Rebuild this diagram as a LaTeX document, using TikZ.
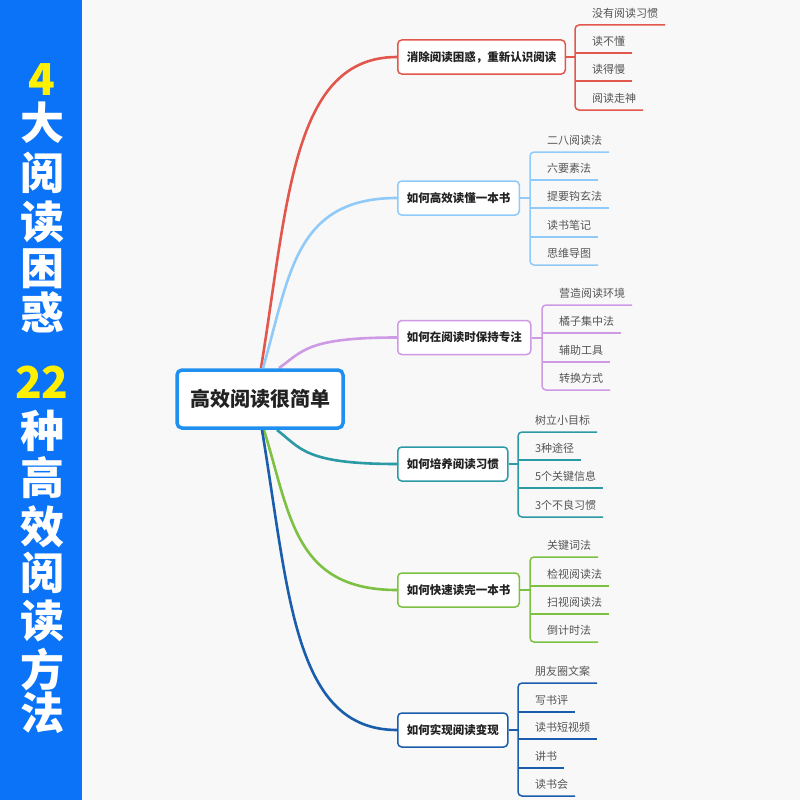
\documentclass[tikz,border=0pt]{standalone}
\usepackage{fontspec}
\setmainfont{Noto Sans CJK SC}
\usetikzlibrary{backgrounds}
\definecolor{bgc}{HTML}{F8F8F8}
\definecolor{bannerc}{HTML}{0A73F7}
\definecolor{yel}{HTML}{FFF000}
\definecolor{rootc}{HTML}{2090F0}
\definecolor{cred}{HTML}{E2574C}
\definecolor{clb}{HTML}{90CAF9}
\definecolor{cpu}{HTML}{CE9AE6}
\definecolor{ctl}{HTML}{2A9AA5}
\definecolor{cgr}{HTML}{7DC142}
\definecolor{cdb}{HTML}{1A5DAD}
\definecolor{txtdark}{HTML}{222222}
\definecolor{txtgray}{HTML}{555555}
\tikzset{
  bann/.style={anchor=base, inner sep=0pt, text=white, font=\bfseries\fontsize{44}{44}\selectfont},
  rootbox/.style={draw=rootc, fill=white, line width=3.5pt, rounded corners=5pt, minimum width=166pt, minimum height=58pt, font=\bfseries\fontsize{20}{22}\selectfont, text=txtdark},
  box/.style={draw=#1, fill=white, rounded corners=4pt, line width=1.5pt, minimum height=34pt, inner xsep=9pt, font=\bfseries\fontsize{11.5}{12}\selectfont, text=txtdark, anchor=west},
  leaf/.style={inner xsep=7pt, inner ysep=0pt, outer xsep=0pt, outer ysep=7.5pt, text depth=0pt, anchor=south west, font=\fontsize{11}{12}\selectfont, text=txtgray},
  stem/.style={draw=#1, line width=2.6pt},
  link/.style={draw=#1, line width=2pt},
  brk/.style={draw=#1, line width=1.5pt, rounded corners=4pt}
}
\begin{document}
\begin{tikzpicture}[x=1pt,y=-1pt]
\useasboundingbox (0,0) rectangle (800,800);
% banner
\fill[bannerc] (0,0) rectangle (82,800);
\node[bann, text=yel] (b1) at (42,95.5) {4};
\node[bann] (b2) at (42,139.5) {大};
\node[bann] (b3) at (42,189.5) {阅};
\node[bann] (b4) at (42,238.5) {读};
\node[bann] (b5) at (42,284.5) {困};
\node[bann] (b6) at (42,329.5) {惑};
\node[bann, text=yel] (b7) at (42,398.5) {22};
\node[bann] (b8) at (42,447.5) {种};
\node[bann] (b9) at (42,494.5) {高};
\node[bann] (b10) at (42,543.5) {效};
\node[bann] (b11) at (42,589.5) {阅};
\node[bann] (b12) at (42,637.5) {读};
\node[bann] (b13) at (42,686.5) {方};
\node[bann] (b14) at (42,729.5) {法};

% root
\node[rootbox] (c) at (260,399) {高效阅读很简单};

% branch 1
\node[box=cred] (m1) at (397,57) {消除阅读困惑，重新认识阅读};
\coordinate (j1) at (575,57);
\node[leaf] (m1a) at (585,25) {没有阅读习惯};
\node[leaf] (m1b) at (585,53) {读不懂};
\node[leaf] (m1c) at (585,81) {读得慢};
\node[leaf] (m1d) at (585,110) {阅读走神};
\draw[link=cred] (m1.east) -- (j1);
\draw[brk=cred] (m1a.south east) -- (j1 |- m1a.south) -- (j1 |- m1d.south) -- (m1d.south east);
\draw[brk=cred] (j1 |- m1b.south) -- (m1b.south east);
\draw[brk=cred] (j1 |- m1c.south) -- (m1c.south east);

% branch 2
\node[box=clb] (m2) at (397,198) {如何高效读懂一本书};
\coordinate (j2) at (530,198);
\node[leaf] (m2a) at (540,152) {二八阅读法};
\node[leaf] (m2b) at (540,180) {六要素法};
\node[leaf] (m2c) at (540,208) {提要钩玄法};
\node[leaf] (m2d) at (540,237) {读书笔记};
\node[leaf] (m2e) at (540,265) {思维导图};
\draw[link=clb] (m2.east) -- (j2);
\draw[brk=clb] (m2a.south east) -- (j2 |- m2a.south) -- (j2 |- m2e.south) -- (m2e.south east);
\draw[brk=clb] (j2 |- m2b.south) -- (m2b.south east);
\draw[brk=clb] (j2 |- m2c.south) -- (m2c.south east);
\draw[brk=clb] (j2 |- m2d.south) -- (m2d.south east);

% branch 3
\node[box=cpu] (m3) at (397,337.5) {如何在阅读时保持专注};
\coordinate (j3) at (542,337.5);
\node[leaf] (m3a) at (552,305) {营造阅读环境};
\node[leaf] (m3b) at (552,333) {橘子集中法};
\node[leaf] (m3c) at (552,362) {辅助工具};
\node[leaf] (m3d) at (552,390) {转换方式};
\draw[link=cpu] (m3.east) -- (j3);
\draw[brk=cpu] (m3a.south east) -- (j3 |- m3a.south) -- (j3 |- m3d.south) -- (m3d.south east);
\draw[brk=cpu] (j3 |- m3b.south) -- (m3b.south east);
\draw[brk=cpu] (j3 |- m3c.south) -- (m3c.south east);

% branch 4
\node[box=ctl] (m4) at (397,464) {如何培养阅读习惯};
\coordinate (j4) at (518,464);
\node[leaf] (m4a) at (528,432) {树立小目标};
\node[leaf] (m4b) at (528,460) {3种途径};
\node[leaf] (m4c) at (528,488) {5个关键信息};
\node[leaf] (m4d) at (528,517) {3个不良习惯};
\draw[link=ctl] (m4.east) -- (j4);
\draw[brk=ctl] (m4a.south east) -- (j4 |- m4a.south) -- (j4 |- m4d.south) -- (m4d.south east);
\draw[brk=ctl] (j4 |- m4b.south) -- (m4b.south east);
\draw[brk=ctl] (j4 |- m4c.south) -- (m4c.south east);

% branch 5
\node[box=cgr] (m5) at (397,590) {如何快速读完一本书};
\coordinate (j5) at (530,590);
\node[leaf] (m5a) at (540,557) {关键词法};
\node[leaf] (m5b) at (540,586) {检视阅读法};
\node[leaf] (m5c) at (540,614) {扫视阅读法};
\node[leaf] (m5d) at (540,642) {倒计时法};
\draw[link=cgr] (m5.east) -- (j5);
\draw[brk=cgr] (m5a.south east) -- (j5 |- m5a.south) -- (j5 |- m5d.south) -- (m5d.south east);
\draw[brk=cgr] (j5 |- m5b.south) -- (m5b.south east);
\draw[brk=cgr] (j5 |- m5c.south) -- (m5c.south east);

% branch 6
\node[box=cdb] (m6) at (397,730) {如何实现阅读变现};
\coordinate (j6) at (518,730);
\node[leaf] (m6a) at (528,683) {朋友圈文案};
\node[leaf] (m6b) at (528,712) {写书评};
\node[leaf] (m6c) at (528,739) {读书短视频};
\node[leaf] (m6d) at (528,768) {讲书};
\node[leaf] (m6e) at (528,796) {读书会};
\draw[link=cdb] (m6.east) -- (j6);
\draw[brk=cdb] (m6a.south east) -- (j6 |- m6a.south) -- (j6 |- m6e.south) -- (m6e.south east);
\draw[brk=cdb] (j6 |- m6b.south) -- (m6b.south east);
\draw[brk=cdb] (j6 |- m6c.south) -- (m6c.south east);
\draw[brk=cdb] (j6 |- m6d.south) -- (m6d.south east);

\begin{pgfonlayer}{background}
\fill[bgc] (82,0) rectangle (800,800);
\coordinate (s1) at (261,368);
\coordinate (s2) at (263,368);
\coordinate (s3) at (279,368);
\coordinate (s4) at (277,430);
\coordinate (s5) at (264,430);
\coordinate (s6) at (262,430);
\draw[stem=cred] (s1) .. controls (288.2,200.1) and (292.3,57) .. (m1.west);
\draw[stem=clb] (s2) .. controls (289.8,276.2) and (293.8,198) .. (m2.west);
\draw[stem=cpu] (s3) .. controls (302.6,351.5) and (306.1,337.5) .. (m3.west);
\draw[stem=ctl] (s4) .. controls (301,448.4) and (304.6,464) .. (m4.west);
\draw[stem=cgr] (s5) .. controls (290.6,516.4) and (294.6,590) .. (m5.west);
\draw[stem=cdb] (s6) .. controls (289,592) and (293,730) .. (m6.west);
\end{pgfonlayer}
\end{tikzpicture}
\end{document}
